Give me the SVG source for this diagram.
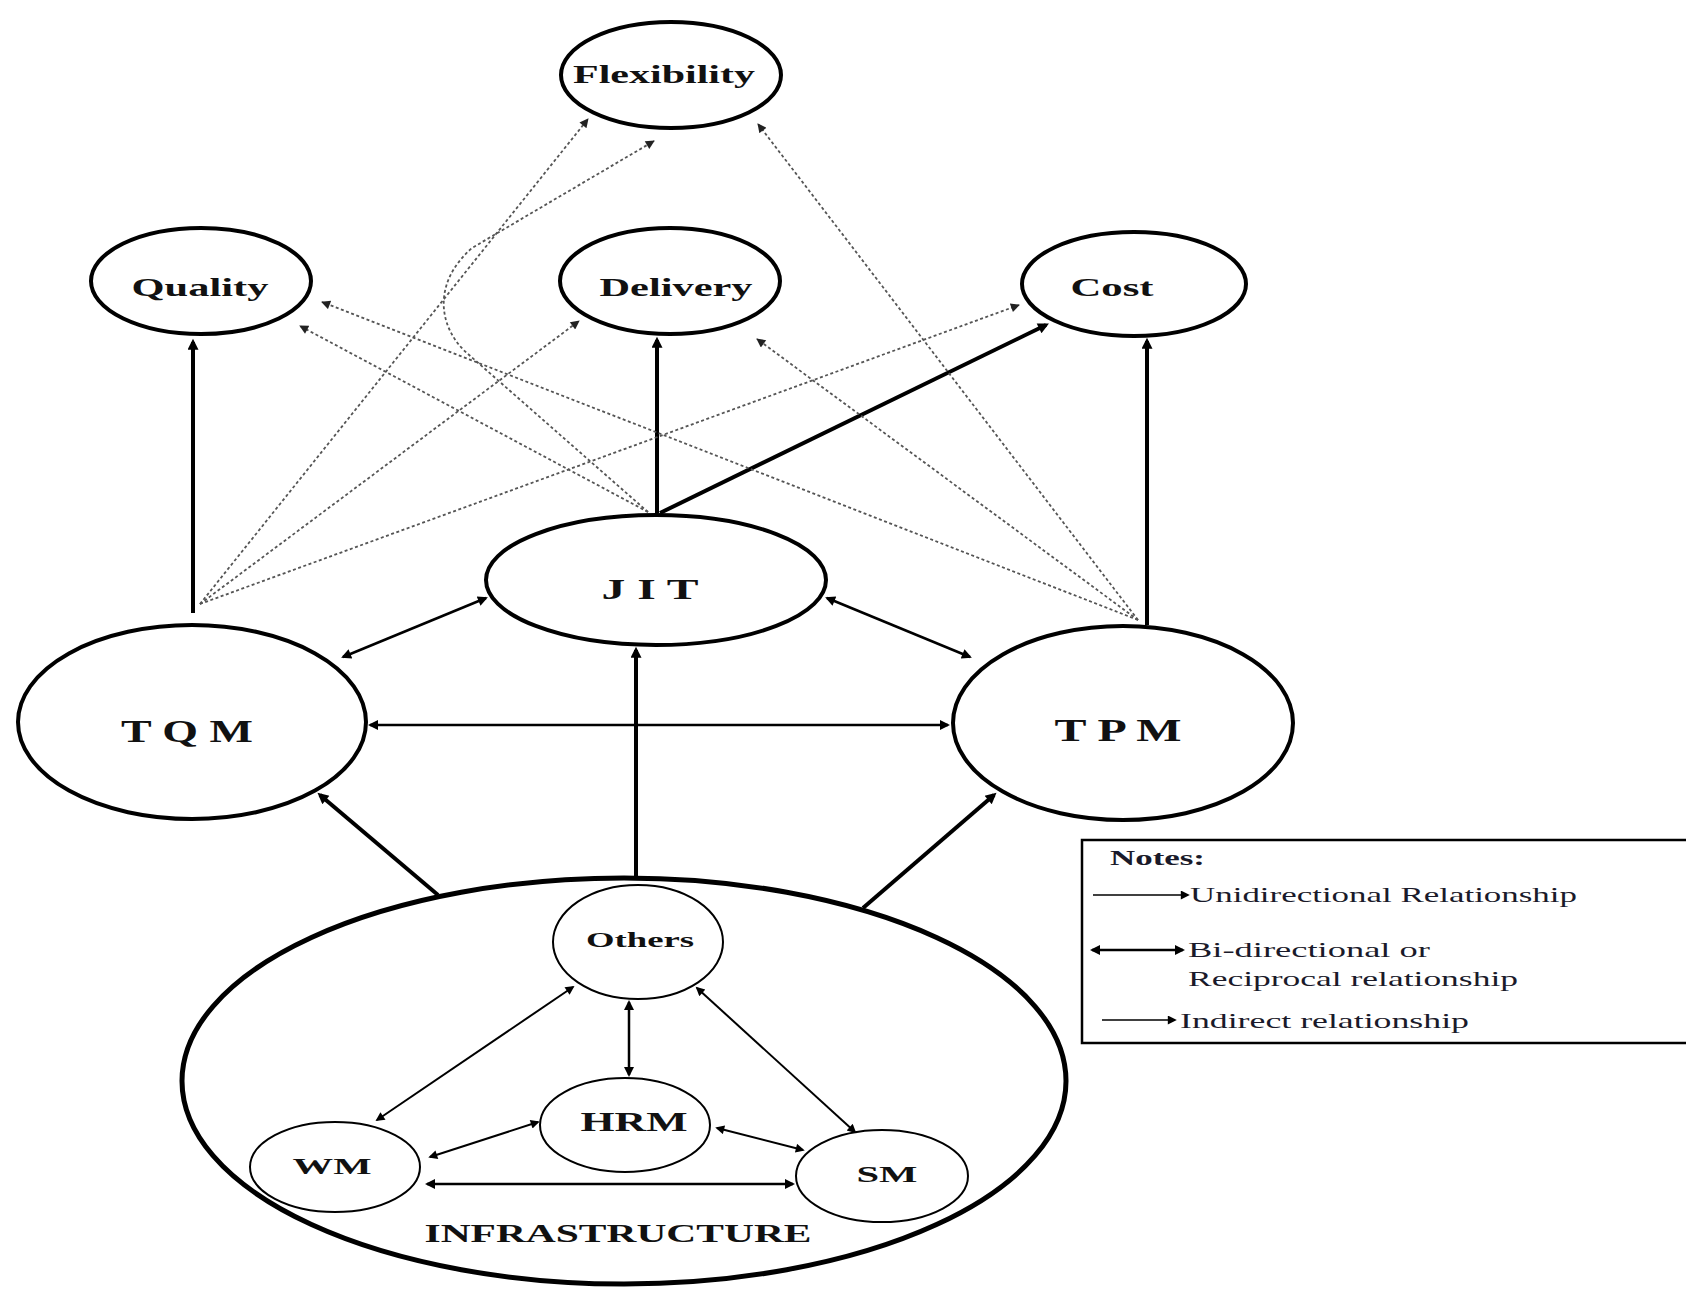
<svg xmlns="http://www.w3.org/2000/svg" width="1686" height="1289" viewBox="0 0 1686 1289">
<defs>
<style>
.node{fill:#fff;stroke:#000;stroke-width:4}
.small{fill:#fff;stroke:#000;stroke-width:2}
.lbl{font-family:"Liberation Serif","Times New Roman",serif;font-weight:bold;fill:#111;text-anchor:middle}
.leg{font-family:"Liberation Serif","Times New Roman",serif;fill:#1a1a2a}
.thick{stroke:#000;stroke-width:4;fill:none;marker-end:url(#ah)}
.bi{stroke:#000;stroke-width:2.5;fill:none;marker-end:url(#ab);marker-start:url(#ab)}
.bis{stroke:#000;stroke-width:2;fill:none;marker-end:url(#as);marker-start:url(#as)}
.dot{stroke:#555;stroke-width:1.8;stroke-dasharray:3 2.5;fill:none;marker-end:url(#ad)}
</style>
<marker id="ah" viewBox="0 0 10 10" refX="7" refY="5" markerWidth="15" markerHeight="11" markerUnits="userSpaceOnUse" orient="auto"><path d="M0,0 L10,5 L0,10 z" fill="#000"/></marker>
<marker id="ab" viewBox="0 0 10 10" refX="8" refY="5" markerWidth="13" markerHeight="10" markerUnits="userSpaceOnUse" orient="auto-start-reverse"><path d="M0,0 L10,5 L0,10 z" fill="#000"/></marker>
<marker id="as" viewBox="0 0 10 10" refX="8" refY="5" markerWidth="12" markerHeight="9" markerUnits="userSpaceOnUse" orient="auto-start-reverse"><path d="M0,0 L10,5 L0,10 z" fill="#000"/></marker>
<marker id="ad" viewBox="0 0 10 10" refX="9" refY="5" markerWidth="11" markerHeight="9" markerUnits="userSpaceOnUse" orient="auto"><path d="M0,0 L10,5 L0,10 z" fill="#222"/></marker>
</defs>
<rect width="1686" height="1289" fill="#fff"/>

<g id="node-flexibility"><ellipse class="node" cx="671" cy="75" rx="110" ry="53"/><text class="lbl" x="664" y="83" font-size="26" textLength="182" lengthAdjust="spacingAndGlyphs">Flexibility</text></g>
<g id="node-quality"><ellipse class="node" cx="201" cy="281" rx="110" ry="53"/><text class="lbl" x="200" y="296" font-size="26" textLength="137" lengthAdjust="spacingAndGlyphs">Quality</text></g>
<g id="node-delivery"><ellipse class="node" cx="670" cy="281" rx="110" ry="53"/><text class="lbl" x="676" y="296" font-size="26" textLength="153" lengthAdjust="spacingAndGlyphs">Delivery</text></g>
<g id="node-cost"><ellipse class="node" cx="1134" cy="284" rx="112" ry="52"/><text class="lbl" x="1112" y="296" font-size="26" textLength="83" lengthAdjust="spacingAndGlyphs">Cost</text></g>
<g id="node-jit"><ellipse class="node" cx="656" cy="580" rx="170" ry="65"/><text class="lbl" x="650" y="599" font-size="30" textLength="97" lengthAdjust="spacingAndGlyphs">J I T</text></g>
<g id="node-tqm"><ellipse class="node" cx="192" cy="722" rx="174" ry="97"/><text class="lbl" x="187" y="742" font-size="32" textLength="132" lengthAdjust="spacingAndGlyphs">T Q M</text></g>
<g id="node-tpm"><ellipse class="node" cx="1123" cy="723" rx="170" ry="97"/><text class="lbl" x="1118" y="741" font-size="32" textLength="127" lengthAdjust="spacingAndGlyphs">T P M</text></g>
<g id="node-infrastructure"><ellipse cx="624" cy="1081" rx="442" ry="203" fill="none" stroke="#000" stroke-width="5"/><text class="lbl" x="618" y="1242" font-size="26" textLength="387" lengthAdjust="spacingAndGlyphs">INFRASTRUCTURE</text></g>
<g id="node-others"><ellipse class="small" cx="638" cy="942" rx="85" ry="57"/><text class="lbl" x="640" y="947" font-size="22" textLength="108" lengthAdjust="spacingAndGlyphs">Others</text></g>
<g id="node-hrm"><ellipse class="small" cx="625" cy="1125" rx="85" ry="47"/><text class="lbl" x="634" y="1131" font-size="28" textLength="107" lengthAdjust="spacingAndGlyphs">HRM</text></g>
<g id="node-wm"><ellipse class="small" cx="335" cy="1167" rx="85" ry="45"/><text class="lbl" x="332" y="1174" font-size="24" textLength="79" lengthAdjust="spacingAndGlyphs">WM</text></g>
<g id="node-sm"><ellipse class="small" cx="882" cy="1176" rx="86" ry="46"/><text class="lbl" x="887" y="1182" font-size="24" textLength="61" lengthAdjust="spacingAndGlyphs">SM</text></g>

<g id="connectors">
<line class="thick" x1="193" y1="613" x2="193" y2="342"/>
<line class="thick" x1="657" y1="513" x2="657" y2="340"/>
<line class="thick" x1="660" y1="513" x2="1046" y2="325"/>
<line class="thick" x1="1147" y1="625" x2="1147" y2="341"/>
<line class="thick" x1="636" y1="879" x2="636" y2="650"/>
<line class="thick" x1="438" y1="895" x2="320" y2="795"/>
<line class="thick" x1="863" y1="908" x2="994" y2="795"/>

<line class="bi" x1="486" y1="598" x2="343" y2="657"/>
<line class="bi" x1="827" y1="598" x2="970" y2="657"/>
<line class="bi" x1="370" y1="725" x2="948" y2="725"/>
<line class="bi" x1="629" y1="1002" x2="629" y2="1075"/>
<line class="bi" x1="427" y1="1184" x2="793" y2="1184"/>
<line class="bis" x1="573" y1="987" x2="377" y2="1120"/>
<line class="bis" x1="697" y1="988" x2="855" y2="1132"/>
<line class="bis" x1="430" y1="1157" x2="538" y2="1122"/>
<line class="bis" x1="717" y1="1128" x2="803" y2="1150"/>

<line class="dot" x1="200" y1="604" x2="588" y2="119"/>
<line class="dot" x1="200" y1="604" x2="579" y2="321"/>
<line class="dot" x1="200" y1="604" x2="1019" y2="305"/>
<line class="dot" x1="648" y1="512" x2="300" y2="326"/>
<path class="dot" d="M648,512 L468,354 C440,330 430,285 472,248 L654,141"/>
<line class="dot" x1="1138" y1="620" x2="758" y2="124"/>
<line class="dot" x1="1138" y1="620" x2="757" y2="339"/>
<line class="dot" x1="1138" y1="620" x2="322" y2="302"/>
</g>

<g id="legend">
<rect x="1082" y="840" width="640" height="203" fill="none" stroke="#000" stroke-width="2.5"/>
<text class="leg" x="1110" y="865" font-size="21" font-weight="bold" textLength="95" lengthAdjust="spacingAndGlyphs">Notes:</text>
<line x1="1093" y1="895" x2="1188" y2="895" stroke="#000" stroke-width="1.5" marker-end="url(#as)"/>
<text class="leg" x="1190" y="902" font-size="22" textLength="387" lengthAdjust="spacingAndGlyphs">Unidirectional Relationship</text>
<line x1="1092" y1="950" x2="1183" y2="950" stroke="#000" stroke-width="2.5" marker-start="url(#ab)" marker-end="url(#ab)"/>
<text class="leg" x="1188" y="957" font-size="22" textLength="242" lengthAdjust="spacingAndGlyphs">Bi-directional or</text>
<text class="leg" x="1188" y="986" font-size="22" textLength="330" lengthAdjust="spacingAndGlyphs">Reciprocal relationship</text>
<line x1="1102" y1="1020" x2="1175" y2="1020" stroke="#000" stroke-width="1.5" marker-end="url(#as)"/>
<text class="leg" x="1180" y="1028" font-size="22" textLength="289" lengthAdjust="spacingAndGlyphs">Indirect relationship</text>
</g>
</svg>
